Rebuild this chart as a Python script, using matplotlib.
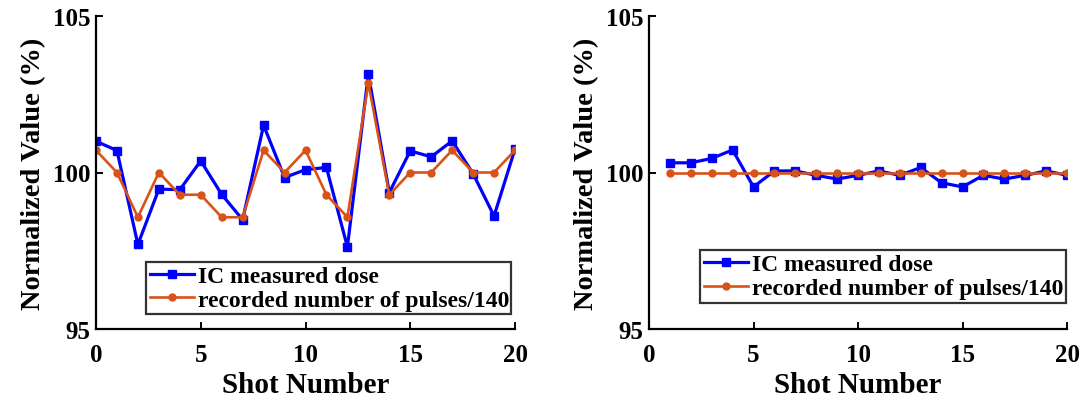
import matplotlib
matplotlib.use("Agg")
import matplotlib.pyplot as plt

# Left panel data
shots_left = list(range(0, 21))
ic_left = [101.0, 100.7, 97.7, 99.47, 99.45, 100.37, 99.3, 98.49, 101.51, 99.84,
           100.09, 100.16, 97.62, 103.14, 99.36, 100.69, 100.5, 101.01, 99.96, 98.61, 100.75]
pulses_left = [100.71, 100.0, 98.57, 100.0, 99.29, 99.29, 98.57, 98.57, 100.71, 100.0,
               100.71, 99.29, 98.57, 102.86, 99.29, 100.0, 100.0, 100.71, 100.0, 100.0, 100.71]

# Right panel data
shots_right = list(range(1, 21))
ic_right = [100.31, 100.31, 100.45, 100.72, 99.54, 100.05, 100.05, 99.91, 99.79, 99.91,
            100.05, 99.91, 100.16, 99.67, 99.54, 99.91, 99.79, 99.91, 100.05, 99.91]
pulses_right = [100.0] * 20

xticks = [0, 5, 10, 15, 20]
yticks = [95, 100, 105]
label_ic = "IC measured dose"
label_pulses = "recorded number of pulses/140"
xlabel = "Shot Number"
ylabel = "Normalized Value (%)"

BLUE = "#0000FF"
ORANGE = "#D95319"

plt.rcParams['font.family'] = ['Liberation Serif', 'DejaVu Serif']
plt.rcParams['font.weight'] = 'bold'

W, H = 1092, 402
fig = plt.figure(figsize=(W / 100, H / 100), dpi=100)
fig.patch.set_facecolor("white")

def make_ax(x0, x1, y0, y1):
    return fig.add_axes([x0 / W, 1 - y1 / H, (x1 - x0) / W, (y1 - y0) / H])

def legend_anchor(x0, y0, x1, y1):
    return (x0 / W, 1 - y1 / H, (x1 - x0) / W, (y1 - y0) / H)

panels = [
    (make_ax(96, 515, 17, 330), shots_left, ic_left, pulses_left, legend_anchor(146, 260, 511, 318)),
    (make_ax(649, 1067, 17, 330), shots_right, ic_right, pulses_right, legend_anchor(700, 248, 1066, 307)),
]

for ax, xs, ic, pu, legbox in panels:
    ax.plot(xs, ic, color=BLUE, lw=2.3, marker='s', ms=6, label=label_ic)
    ax.plot(xs, pu, color=ORANGE, lw=1.9, marker='o', ms=5, label=label_pulses)
    ax.set_xlim(0, 20)
    ax.set_ylim(95, 105)
    ax.set_xticks(xticks)
    ax.set_yticks(yticks)
    for s in ['top', 'right']:
        ax.spines[s].set_visible(False)
    for s in ['left', 'bottom']:
        ax.spines[s].set_linewidth(1.6)
    ax.tick_params(direction='in', length=5, width=1.4, labelsize=18)
    ax.tick_params(axis='x', pad=10)
    ax.tick_params(axis='y', pad=4)
    for lab in ax.get_xticklabels() + ax.get_yticklabels():
        lab.set_fontweight('bold')
    ax.set_xlabel(xlabel, fontsize=21, fontweight='bold', labelpad=4)
    ax.set_ylabel(ylabel, fontsize=20.5, fontweight='bold', labelpad=5)
    leg = ax.legend(loc='center', bbox_to_anchor=legbox, bbox_transform=fig.transFigure,
                    prop={'weight': 'bold', 'size': 17}, frameon=True, fancybox=False,
                    handlelength=1.9, handletextpad=0.15, borderpad=0.15,
                    labelspacing=0.1, borderaxespad=0, mode='expand')
    leg.get_frame().set_edgecolor('black')
    leg.get_frame().set_linewidth(1.6)

fig.savefig("out.png", dpi=100)
